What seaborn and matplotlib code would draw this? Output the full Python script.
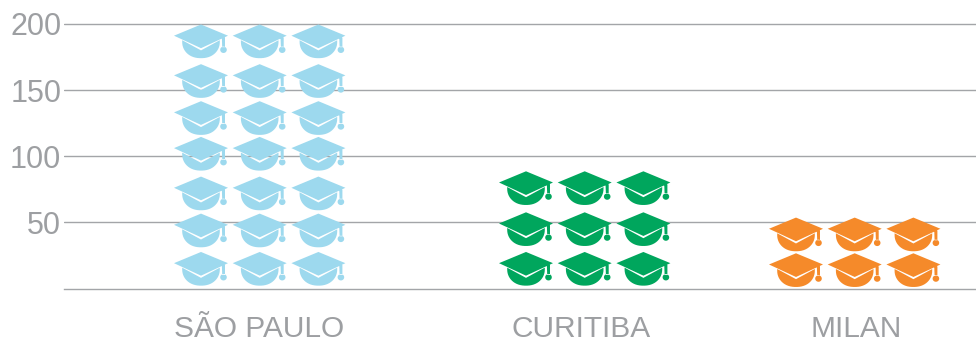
import numpy as np
import pandas as pd
import matplotlib
matplotlib.use("Agg")
import matplotlib.pyplot as plt
from matplotlib.path import Path
import seaborn as sns

cities = ["SÃO PAULO", "CURITIBA", "MILAN"]
sao_paulo_rows = [187, 157, 129, 102, 72, 44, 15]
curitiba_rows = [76, 45, 15]
milan_rows = [41, 14]
y_ticks = [50, 100, 150, 200]

city_colors = ["#9DD9EE", "#00A65D", "#F58A2A"]
grid_color = "#A3A5A8"
text_color = "#9D9FA2"

# Horizontal layout, in pixels from the left end of the axis
first_icon_x = [137, 462, 732]
label_centers = [195, 517, 792]
column_step = 58.7
columns = [0, 1, 2]

rows_by_city = [sao_paulo_rows, curitiba_rows, milan_rows]
records = [
    {"city": city, "x": start + col * column_step, "y": value}
    for city, start, rows in zip(cities, first_icon_x, rows_by_city)
    for value in rows
    for col in columns
]
df = pd.DataFrame(records)


def polygon(points):
    pts = list(points) + [points[0]]
    codes = [Path.MOVETO] + [Path.LINETO] * (len(pts) - 2) + [Path.CLOSEPOLY]
    return Path(pts, codes)


def cap_marker():
    """Graduation cap: board, bowl under a chevron gap, tassel."""
    board = polygon([(0, 16.7), (27, 5.5), (0, -7), (-27, 5.5)])
    t = np.linspace(0, np.pi, 30)
    arc = [(18.8 * np.cos(a) ** 0.9 if np.cos(a) >= 0 else -18.8 * (-np.cos(a)) ** 0.9,
            -1 - 16 * np.sin(a)) for a in t]
    bowl = polygon([(-18.8, 1.0), (0, -9.2), (18.8, 1.0)] + arc)
    stem = polygon([(20.8, 5.0), (24.0, 3.6), (24.0, -6), (21.2, -6)])
    a = np.linspace(0, 2 * np.pi, 24, endpoint=False)
    blob = polygon([(22.5 + 3.3 * np.cos(v), -8.6 + 3.2 * np.sin(v)) for v in a])
    return Path.make_compound_path(board, bowl, stem, blob)


sns.set_theme(style="white")
plt.rcParams["font.family"] = ["Liberation Sans", "DejaVu Sans"]

W, H = 976, 344
fig = plt.figure(figsize=(W / 100, H / 100), dpi=100)
px_per_unit = 1.3225
y_top = 215
baseline_px = 288.5
ax = fig.add_axes([64 / W, (H - baseline_px) / H, (W - 64) / W, y_top * px_per_unit / H])

sns.scatterplot(
    data=df, x="x", y="y", hue="city", hue_order=cities, palette=city_colors,
    marker=cap_marker(), s=(54 * 0.72) ** 2, linewidth=0, edgecolor="none",
    legend=False, clip_on=False, zorder=3, ax=ax,
)

ax.set_xlim(0, W - 64)
ax.set_ylim(0, y_top)
ax.set_xlabel("")
ax.set_ylabel("")
ax.set_xticks(label_centers, cities)
ax.set_yticks(y_ticks, [str(v) for v in y_ticks])
ax.tick_params(axis="x", length=0, pad=19, labelsize=21.5, labelcolor=text_color)
ax.tick_params(axis="y", length=0, pad=2, labelsize=22, labelcolor=text_color)
ax.grid(axis="y", color=grid_color, linewidth=1.0, zorder=0)
ax.set_axisbelow(True)
for name in ["top", "right", "left"]:
    ax.spines[name].set_visible(False)
ax.spines["bottom"].set_color(grid_color)
ax.spines["bottom"].set_linewidth(1.0)

fig.savefig("out.png", dpi=100, facecolor="white")
